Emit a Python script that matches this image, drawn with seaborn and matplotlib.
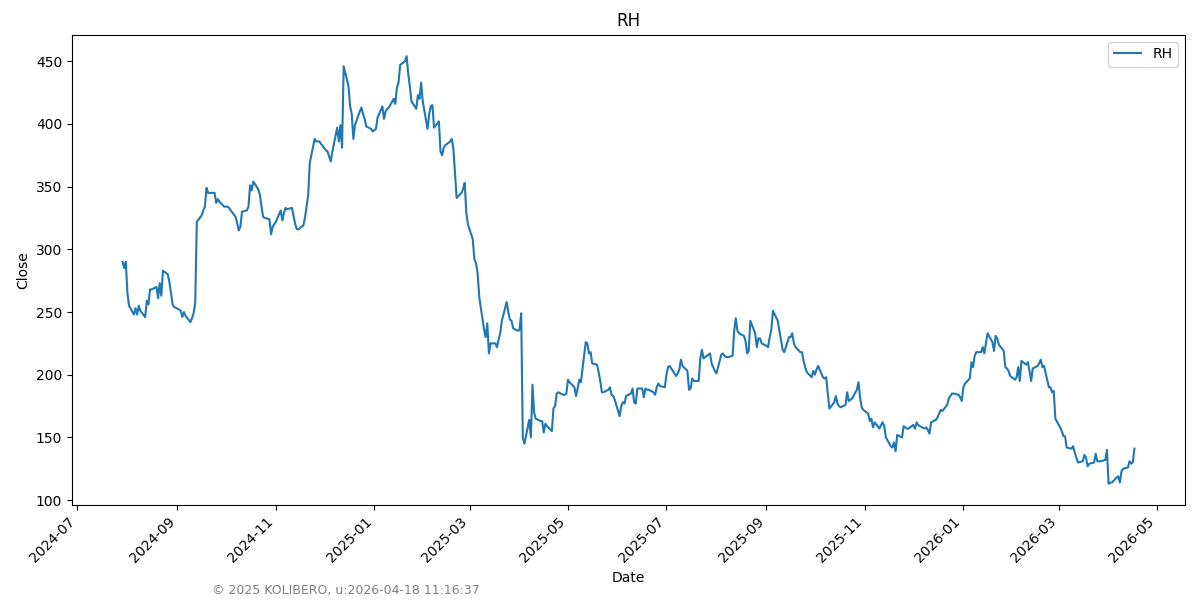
import pandas as pd
import numpy as np
import matplotlib
matplotlib.use("Agg")
import matplotlib.pyplot as plt
import seaborn as sns

ticker = "RH"
footer = "\u00a9 2025 KOLIBERO, u:2026-04-18 11:16:37"
start_date = "2024-07-29"

# daily closes, one row per week (Mon..Fri)
close = [
    290, 285, 290, 265, 255,
    248, 253, 248, 255, 251,
    246, 259, 256, 268, 268,
    270, 261, 273, 263, 283,
    280, 274, 265, 256, 254,
    252, 251, 246, 250, 247,
    242, 245, 249, 257, 322,
    327, 331, 334, 349, 345,
    345, 345, 337, 340, 338,
    334, 334, 334, 333, 331,
    326, 321, 315, 318, 330,
    331, 334, 351, 347, 354,
    348, 344, 335, 326, 325,
    324, 312, 318, 320, 322,
    331, 323, 329, 333, 332,
    333, 326, 320, 316, 316,
    319, 325, 334, 343, 369,
    388, 386, 386, 386, 384,
    379, 378, 374, 370, 378,
    397, 386, 399, 381, 446,
    430, 414, 408, 388, 399,
    410, 413, 408, 404, 398,
    396, 394, 395, 396, 405,
    414, 404, 410, 412, 413,
    420, 416, 429, 433, 447,
    450, 454, 440, 430, 418,
    412, 423, 420, 433, 418,
    396, 408, 414, 415, 397,
    402, 378, 375, 381, 383,
    386, 388, 380, 360, 341,
    345, 348, 353, 329, 320,
    308, 292, 289, 281, 262,
    236, 230, 241, 217, 225,
    225, 222, 228, 233, 243,
    258, 250, 244, 243, 237,
    235, 236, 249, 150, 145,
    164, 150, 192, 170, 165,
    163, 163, 154, 161, 159,
    155, 173, 175, 185, 186,
    184, 184, 185, 196, 194,
    190, 183, 189, 196, 194,
    226, 225, 217, 218, 209,
    208, 202, 195, 186, 186,
    188, 190, 184, 183, 180,
    167, 175, 178, 177, 183,
    185, 189, 178, 177, 189,
    189, 182, 189, 188, 188,
    186, 184, 190, 193, 191,
    190, 200, 206, 207, 205,
    199, 201, 204, 212, 207,
    203, 188, 189, 197, 195,
    195, 213, 220, 213, 214,
    217, 209, 206, 203, 201,
    216, 217, 215, 214, 214,
    215, 235, 245, 235, 233,
    231, 227, 217, 219, 243,
    233, 222, 229, 229, 225,
    223, 222, 230, 236, 251,
    243, 235, 228, 220, 218,
    230, 230, 233, 225, 222,
    218, 218, 211, 206, 202,
    198, 203, 200, 204, 207,
    198, 197, 198, 185, 173,
    178, 183, 177, 175, 174,
    176, 186, 179, 180, 181,
    188, 194, 182, 174, 172,
    169, 163, 165, 158, 162,
    157, 160, 162, 159, 150,
    143, 142, 146, 139, 152,
    150, 159, 158, 157, 157,
    160, 157, 162, 160, 159,
    157, 158, 156, 153, 162,
    164, 166, 169, 172, 171,
    176, 181, 183, 185, 185,
    184, 182, 179, 190, 193,
    197, 210, 206, 215, 218,
    218, 222, 217, 225, 233,
    226, 219, 231, 229, 224,
    219, 206, 205, 203, 199,
    196, 198, 206, 195, 211,
    208, 210, 203, 195, 205,
    207, 209, 212, 206, 207,
    190, 190, 186, 187, 165,
    158, 155, 151, 151, 142,
    141, 143, 138, 134, 130,
    131, 136, 134, 127, 129,
    130, 137, 131, 131, 131,
    132, 140, 113, 114, 114,
    118, 119, 114, 123, 125,
    126, 131, 129, 130, 141,
]

dates = pd.bdate_range(start_date, periods=len(close))
df = pd.DataFrame({"Date": dates, "Close": close})

fig, ax = plt.subplots(figsize=(12, 6), dpi=100)
sns.lineplot(data=df, x="Date", y="Close", ax=ax, label=ticker, color="#1f77b4", linewidth=1.5)
ax.set_title(ticker)
ax.set_xlabel("Date")
ax.set_ylabel("Close")
ax.legend(loc="upper right")
plt.setp(ax.get_xticklabels(), rotation=45, ha="right")
fig.subplots_adjust(left=0.06, right=0.9875, top=0.942, bottom=0.158)
fig.text(0.177, 0.005, footer, color="gray", fontsize=9, ha="left", va="bottom")
fig.savefig("out.png", dpi=100)
plt.close()
